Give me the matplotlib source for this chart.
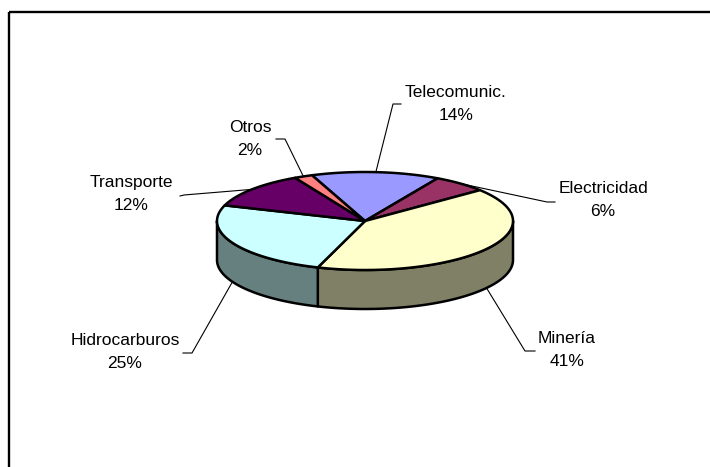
import matplotlib
matplotlib.use('Agg')
import matplotlib.pyplot as plt
import numpy as np
from matplotlib.patches import Polygon, Rectangle
from matplotlib.colors import to_rgb

labels = ['Telecomunic.', 'Electricidad', 'Minería', 'Hidrocarburos', 'Transporte', 'Otros']
shares = [14, 6, 41, 25, 12, 2]
colors = ['#9999FF', '#993366', '#FFFFCC', '#CCFFFF', '#660066', '#FF8080']

# label centres and leader elbows (pixels, y down)
label_xy = [(456, 104), (603, 200), (567, 350), (125, 352), (131, 194), (250, 139)]
elbows = [[(401, 104), (393, 104)],
          [(555, 202), (547, 202)],
          [(535, 351), (525, 351)],
          [(183, 353), (192, 353)],
          [(180, 196), (184, 195)],
          [(276, 139), (285, 139)]]

# pie geometry
cx, cy = 365, 221
ra, rb = 148, 49
depth = 39
start = -21.0

plt.rcParams['font.family'] = ['Liberation Sans', 'DejaVu Sans']

fig = plt.figure(figsize=(7.10, 4.67), dpi=100)
ax = fig.add_axes([0, 0, 1, 1])
ax.set_xlim(0, 710)
ax.set_ylim(467, 0)
ax.axis('off')

ax.add_patch(Rectangle((9, 12), 730, 480, fill=False, ec='black', lw=1.7))


def pt(theta, dy=0):
    t = np.radians(theta)
    return cx + ra * np.sin(t), cy - rb * np.cos(t) + dy


def arc(t0, t1, dy=0):
    ts = np.linspace(t0, t1, max(3, int(abs(t1 - t0)) + 2))
    return [pt(t, dy) for t in ts]


angles = np.cumsum([0] + [s * 3.6 for s in shares]) + start
bounds = list(zip(angles[:-1], angles[1:]))

# side walls (front half only)
for (t0, t1), c in zip(bounds, colors):
    lo, hi = max(t0, 90), min(t1, 270)
    if hi <= lo:
        continue
    side = tuple(v * 0.5 for v in to_rgb(c))
    pts = arc(lo, hi) + arc(hi, lo, depth)
    ax.add_patch(Polygon(pts, closed=True, fc=side, ec='black', lw=1.8, joinstyle='round'))

# top face
for (t0, t1), c in zip(bounds, colors):
    pts = [(cx, cy)] + arc(t0, t1)
    ax.add_patch(Polygon(pts, closed=True, fc=c, ec='black', lw=1.8, joinstyle='round'))

# labels and leader lines
for lab, s, (t0, t1), (lx, ly), el in zip(labels, shares, bounds, label_xy, elbows):
    mid = (t0 + t1) / 2
    front = np.cos(np.radians(mid)) < 0
    ex, ey = pt(mid, depth if front else 0)
    xs = [el[0][0], el[1][0], ex]
    ys = [el[0][1], el[1][1], ey]
    ax.plot(xs, ys, color='black', lw=0.8)
    ax.text(lx, ly, f'{lab}\n{s}%', ha='center', va='center', fontsize=12.5,
            linespacing=1.7, color='black')

fig.savefig('out.png', dpi=100)
